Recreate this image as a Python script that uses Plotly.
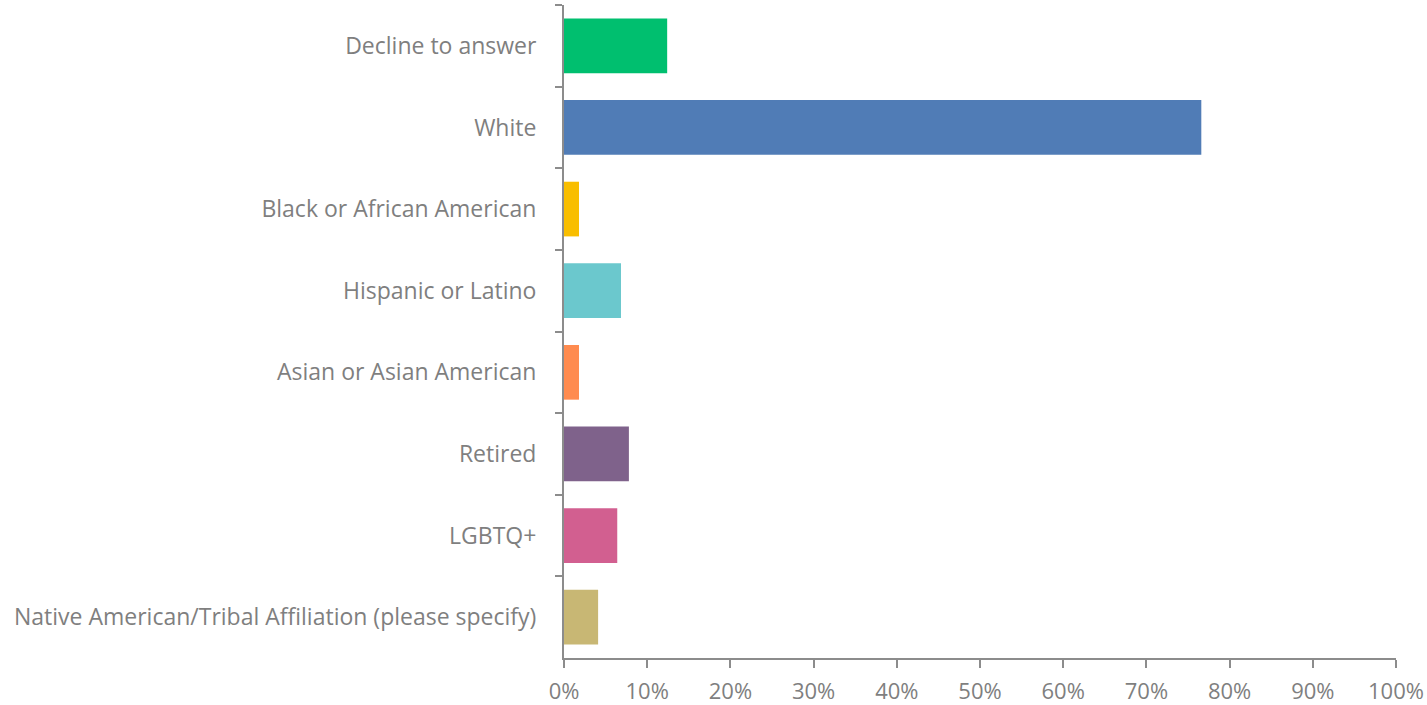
import plotly.graph_objects as go

categories = [
    "Decline to answer",
    "White",
    "Black or African American",
    "Hispanic or Latino",
    "Asian or Asian American",
    "Retired",
    "LGBTQ+",
    "Native American/Tribal Affiliation (please specify)",
]
values = [12.4, 76.6, 1.8, 6.85, 1.8, 7.8, 6.4, 4.1]
colors = ["#00BF6F", "#507CB6", "#F9BE00", "#6BC8CD", "#FF8B4F", "#7F628B", "#D25F90", "#C8B774"]
x_ticks = list(range(0, 101, 10))
x_tick_labels = [f"{t}%" for t in x_ticks]

FONT = "'Open Sans', sans-serif"
TEXT_COLOR = "#7F7F7F"
AXIS_COLOR = "#8C8C8C"
FS = 23

fig = go.Figure(go.Bar(
    y=categories,
    x=values,
    orientation="h",
    marker=dict(color=colors, line=dict(width=0)),
    hoverinfo="x+y",
))

fig.update_layout(
    width=1427, height=705,
    margin=dict(l=564, r=31, t=5, b=47),
    paper_bgcolor="white",
    plot_bgcolor="white",
    bargap=0.33,
    showlegend=False,
    font=dict(family=FONT, size=FS, color=TEXT_COLOR),
)
fig.update_xaxes(
    range=[0, 100],
    tickvals=x_ticks,
    ticktext=x_tick_labels,
    automargin=False,
    showgrid=False,
    zeroline=False,
    showline=True,
    linecolor=AXIS_COLOR,
    linewidth=2,
    ticks="outside",
    ticklen=8,
    tickwidth=2,
    tickcolor=AXIS_COLOR,
    tickfont=dict(family=FONT, size=22, color=TEXT_COLOR),
    ticklabelstandoff=5,
)
fig.update_yaxes(
    categoryorder="array",
    categoryarray=categories,
    autorange="reversed",
    automargin=False,
    showgrid=False,
    zeroline=False,
    showline=True,
    linecolor=AXIS_COLOR,
    linewidth=2,
    ticks="outside",
    tickson="boundaries",
    ticklen=7,
    tickwidth=2,
    tickcolor=AXIS_COLOR,
    tickfont=dict(family=FONT, size=FS, color=TEXT_COLOR),
    ticklabelstandoff=21,
)

fig.write_html(
    "out.html",
    config={"displayModeBar": False},
    post_script="document.body.style.margin='0';document.body.style.overflow='hidden';",
)
